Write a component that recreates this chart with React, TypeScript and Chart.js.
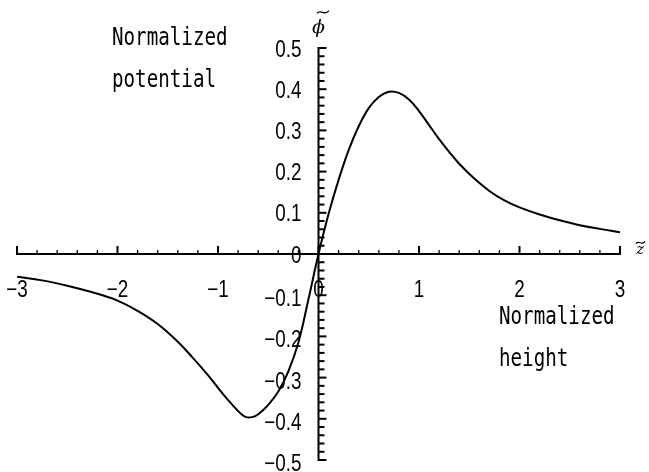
import React, { useEffect, useRef } from "react";
import { Chart, registerables } from "chart.js";

Chart.register(...registerables);

// Normalized height z~ and the matching normalized potential phi~
const curveZ = [
  -3.0, -2.75, -2.5, -2.25, -2.0, -1.8, -1.6, -1.4, -1.25, -1.1, -0.95, -0.85,
  -0.78, -0.72, -0.66, -0.6, -0.5, -0.4, -0.3, -0.2, -0.1, 0,
  0.1, 0.2, 0.3, 0.4, 0.5, 0.6, 0.7, 0.8, 0.9, 1.0, 1.1, 1.2, 1.3, 1.4, 1.55,
  1.7, 1.85, 2.0, 2.2, 2.4, 2.6, 2.8, 3.0,
];
const curvePhi = [
  -0.055, -0.064, -0.077, -0.093, -0.113, -0.138, -0.17, -0.213, -0.252,
  -0.294, -0.34, -0.368, -0.386, -0.396, -0.396, -0.389, -0.366, -0.334,
  -0.285, -0.215, -0.11, 0,
  0.097, 0.18, 0.252, 0.31, 0.354, 0.381, 0.394, 0.391, 0.375, 0.347, 0.313,
  0.279, 0.248, 0.219, 0.183, 0.153, 0.13, 0.113, 0.096, 0.082, 0.07, 0.061,
  0.053,
];

const xTickValues = [-3, -2, -1, 0, 1, 2, 3];
const xTickLabels = ["\u22123", "\u22122", "\u22121", "0", "1", "2", "3"];
const yTickValues = [-0.5, -0.4, -0.3, -0.2, -0.1, 0, 0.1, 0.2, 0.3, 0.4, 0.5];
const yTickLabels = [
  "\u22120.5", "\u22120.4", "\u22120.3", "\u22120.2", "\u22120.1", "0",
  "0.1", "0.2", "0.3", "0.4", "0.5",
];

const yAxisCaption = ["Normalized", "potential"];
const xAxisCaption = ["Normalized", "height"];

const TICK_FONT = '23px "Liberation Sans", Arial, sans-serif';
const CAPTION_FONT = '24px "DejaVu Sans Mono", monospace';

function drawText(
  ctx: CanvasRenderingContext2D,
  text: string,
  x: number,
  baseline: number,
  font: string,
  sx: number,
  align: "left" | "center" | "right"
) {
  ctx.save();
  ctx.font = font;
  ctx.textAlign = "left";
  ctx.textBaseline = "alphabetic";
  const w = ctx.measureText(text).width * sx;
  const left = align === "left" ? x : align === "center" ? x - w / 2 : x - w;
  ctx.translate(left, baseline);
  ctx.scale(sx, 1);
  ctx.fillText(text, 0, 0);
  ctx.restore();
}

// small wavy accent drawn over an axis symbol
function drawTilde(ctx: CanvasRenderingContext2D, x: number, y: number, w: number, h: number) {
  ctx.save();
  ctx.strokeStyle = "#000";
  ctx.lineWidth = 1.2;
  ctx.beginPath();
  ctx.moveTo(x, y + h * 0.35);
  ctx.bezierCurveTo(x + w * 0.3, y - h * 0.9, x + w * 0.65, y + h * 1.2, x + w, y - h * 0.35);
  ctx.stroke();
  ctx.restore();
}

const crossedAxes = {
  id: "crossedAxes",
  beforeDatasetsDraw(chart: any) {
    const { ctx, scales } = chart;
    const xs = scales.x;
    const ys = scales.y;
    const x0 = xs.getPixelForValue(0);
    const y0 = ys.getPixelForValue(0);
    ctx.save();
    ctx.strokeStyle = "#000";
    ctx.lineCap = "butt";

    // horizontal axis
    ctx.lineWidth = 2;
    ctx.beginPath();
    ctx.moveTo(xs.getPixelForValue(-3) - 1, y0);
    ctx.lineTo(xs.getPixelForValue(3) + 1, y0);
    ctx.stroke();

    // vertical axis
    ctx.beginPath();
    ctx.moveTo(x0, ys.getPixelForValue(0.5) - 1);
    ctx.lineTo(x0, ys.getPixelForValue(-0.5) + 1);
    ctx.stroke();

    // ticks on the horizontal axis, every 0.2, pointing up
    for (let i = -15; i <= 15; i++) {
      const major = i % 5 === 0;
      const px = xs.getPixelForValue(i / 5);
      ctx.lineWidth = major ? 2 : 1.3;
      ctx.beginPath();
      ctx.moveTo(px, y0);
      ctx.lineTo(px, y0 - (major ? 8 : 4));
      ctx.stroke();
    }

    // ticks on the vertical axis, every 0.02, pointing right
    for (let i = -25; i <= 25; i++) {
      const major = i % 5 === 0;
      const py = ys.getPixelForValue(i / 50);
      ctx.lineWidth = 2;
      ctx.beginPath();
      ctx.moveTo(x0, py);
      ctx.lineTo(x0 + (major ? 8 : 6), py);
      ctx.stroke();
    }
    ctx.restore();
  },
  afterDatasetsDraw(chart: any) {
    const { ctx, scales } = chart;
    const xs = scales.x;
    const ys = scales.y;
    const x0 = xs.getPixelForValue(0);
    const y0 = ys.getPixelForValue(0);
    ctx.save();
    ctx.fillStyle = "#000";

    xTickValues.forEach((v, i) => {
      drawText(ctx, xTickLabels[i], xs.getPixelForValue(v), y0 + 43, TICK_FONT, 0.82, "center");
    });
    yTickValues.forEach((v, i) => {
      const off = v < 0 ? 11 : 8.5;
      drawText(ctx, yTickLabels[i], x0 - 17, ys.getPixelForValue(v) + off, TICK_FONT, 0.82, "right");
    });

    // axis captions
    drawText(ctx, yAxisCaption[0], 112, 45, CAPTION_FONT, 0.8, "left");
    drawText(ctx, yAxisCaption[1], 112, 87, CAPTION_FONT, 0.8, "left");
    drawText(ctx, xAxisCaption[0], 499, 324, CAPTION_FONT, 0.8, "left");
    drawText(ctx, xAxisCaption[1], 499, 366, CAPTION_FONT, 0.8, "left");

    // axis symbols
    ctx.font = 'italic 19px "DejaVu Serif", serif';
    ctx.textAlign = "left";
    ctx.textBaseline = "alphabetic";
    ctx.fillText("\u03D5", 312, 33);
    drawTilde(ctx, 317, 12, 12, 4);

    ctx.font = 'italic 15px "DejaVu Serif", serif';
    ctx.fillText("z", 636, 254);
    drawTilde(ctx, 636, 242.5, 9, 3);
    ctx.restore();
  },
};

export default function App() {
  const canvasRef = useRef<HTMLCanvasElement | null>(null);

  useEffect(() => {
    const canvas = canvasRef.current;
    if (!canvas) return;
    const points = curveZ.map((z, i) => ({ x: z, y: curvePhi[i] }));
    const chart = new Chart(canvas, {
      type: "scatter",
      data: {
        datasets: [
          {
            data: points,
            showLine: true,
            borderColor: "#000",
            borderWidth: 2,
            pointRadius: 0,
            tension: 0.4,
            clip: false,
          } as any,
        ],
      },
      options: {
        responsive: false,
        animation: false,
        devicePixelRatio: 1,
        layout: { padding: { left: 17, right: 29, top: 48, bottom: 12 } },
        scales: {
          x: { type: "linear", min: -3, max: 3, display: false },
          y: { type: "linear", min: -0.5, max: 0.5, display: false },
        },
        plugins: {
          legend: { display: false },
          tooltip: { enabled: false },
        },
      },
      plugins: [crossedAxes],
    });
    return () => chart.destroy();
  }, []);

  return (
    <div style={{ position: "fixed", left: 0, top: 0, width: 649, height: 472, background: "#fff" }}>
      <canvas ref={canvasRef} width={649} height={472} />
    </div>
  );
}
